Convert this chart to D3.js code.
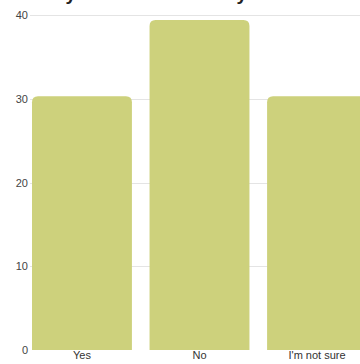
<!DOCTYPE html>
<html>
<head>
<meta charset="utf-8">
<script src="https://cdn.jsdelivr.net/npm/d3@7"></script>
<style>
  html, body { margin: 0; padding: 0; background: #ffffff; overflow: hidden; }
  svg { display: block; font-family: "Liberation Sans", Arial, sans-serif; }
</style>
</head>
<body>
<svg id="chart" width="360" height="364"></svg>
<script>
// Survey answers, share of respondents (%)
const categories = ["Yes", "No", "I'm not sure"];
const shares = [30.3, 39.4, 30.3];
const yTicks = [0, 10, 20, 30, 40];
const title = "Do you think the library is useful?";

const svg = d3.select("#chart");
const W = 360;

const x = d3.scaleBand()
  .domain(categories)
  .range([32, 367])
  .paddingInner(0.15)
  .paddingOuter(0);

const y = d3.scaleLinear()
  .domain([0, 40])
  .range([350, 15]);

// Title (sits mostly above the visible area)
svg.append("text")
  .attr("x", 35)
  .attr("y", -0.5)
  .attr("text-anchor", "start")
  .attr("font-size", 19)
  .attr("font-weight", "bold")
  .attr("fill", "#222")
  .text(title);

// Horizontal gridlines
svg.append("g")
  .selectAll("line")
  .data(yTicks.filter(d => d > 0))
  .join("line")
  .attr("x1", 30)
  .attr("x2", W)
  .attr("y1", d => Math.round(y(d)) + 0.5)
  .attr("y2", d => Math.round(y(d)) + 0.5)
  .attr("stroke", "#e4e4e4")
  .attr("stroke-width", 1);

// Y axis labels
const yAxis = d3.axisLeft(y).tickValues(yTicks).tickSize(0).tickPadding(0);
const gy = svg.append("g").attr("transform", "translate(28,0)").call(yAxis);
gy.select(".domain").remove();
gy.selectAll("text")
  .attr("font-size", 11)
  .attr("font-family", "Liberation Sans, Arial, sans-serif")
  .attr("fill", "#444");

// Bars with rounded top corners
const r = 6;
function barPath(d, i) {
  const x0 = x(categories[i]);
  const w = x.bandwidth();
  const y0 = y(d);
  const yb = y(0);
  return `M${x0},${yb}V${y0 + r}Q${x0},${y0} ${x0 + r},${y0}H${x0 + w - r}Q${x0 + w},${y0} ${x0 + w},${y0 + r}V${yb}Z`;
}
svg.append("g")
  .selectAll("path")
  .data(shares)
  .join("path")
  .attr("d", (d, i) => barPath(d, i))
  .attr("fill", "#cdd17c");

// X axis category labels
const xAxis = d3.axisBottom(x).tickSize(0).tickPadding(1);
const gx = svg.append("g").attr("transform", `translate(0,${y(0)})`).call(xAxis);
gx.select(".domain").remove();
gx.selectAll("text")
  .attr("font-size", 11)
  .attr("font-family", "Liberation Sans, Arial, sans-serif")
  .attr("fill", "#333");
</script>
</body>
</html>
